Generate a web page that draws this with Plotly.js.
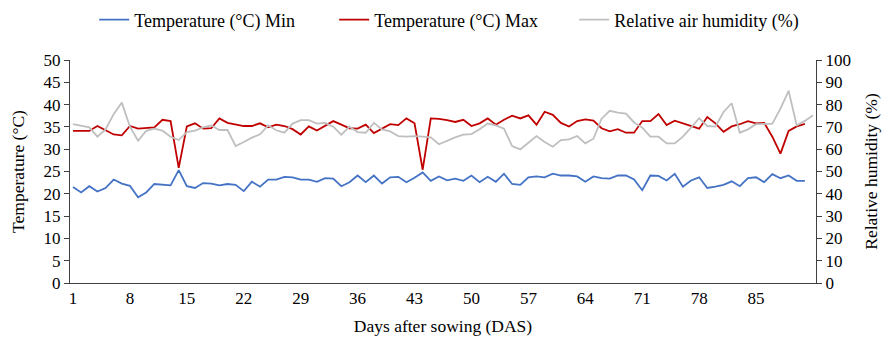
<!DOCTYPE html>
<html>
<head>
<meta charset="utf-8">
<script src="https://cdn.plot.ly/plotly-3.0.1.min.js"></script>
<style>html,body{margin:0;padding:0;background:#fff;}#chart{width:886px;height:338px;}</style>
</head>
<body>
<div id="chart"></div>
<script>
const tempMin = [21.5,20.3,21.7,20.5,21.3,23.2,22.3,21.8,19.2,20.3,22.2,22.0,21.9,25.3,21.7,21.3,22.4,22.3,21.9,22.2,22.0,20.6,22.7,21.6,23.2,23.2,23.8,23.7,23.2,23.2,22.7,23.5,23.4,21.7,22.6,24.1,22.6,24.1,22.3,23.7,23.8,22.6,23.6,24.8,22.9,23.9,23.0,23.4,22.9,24.1,22.6,23.8,22.7,24.5,22.2,22.0,23.7,23.9,23.7,24.5,24.1,24.1,23.9,22.7,23.9,23.5,23.4,24.1,24.1,23.2,20.8,24.1,24.0,23.0,24.5,21.6,23.0,23.7,21.3,21.6,22.0,22.8,21.7,23.5,23.7,22.6,24.4,23.5,24.1,22.9,22.9];
const tempMax = [34.1,34.1,34.1,35.2,34.3,33.3,33.1,35.2,34.6,34.7,34.9,36.6,36.3,25.8,35.1,35.8,34.6,34.7,36.9,35.9,35.6,35.2,35.2,35.8,34.9,35.5,35.2,34.5,33.3,35.1,34.2,35.2,36.3,35.5,34.7,34.6,35.5,33.6,34.6,35.6,35.4,36.9,35.8,25.4,36.9,36.8,36.5,36.1,36.6,35.2,35.8,36.9,35.5,36.6,37.5,36.9,37.6,35.5,38.4,37.7,35.9,35.1,36.3,36.7,36.4,34.7,34.0,34.5,33.7,33.7,36.3,36.3,37.9,35.4,36.4,35.8,35.3,34.6,37.2,35.8,33.9,35.1,35.6,36.3,35.8,35.9,32.8,29.0,34.1,35.1,35.7];
const humidity = [71.2,70.4,69.8,65.6,68.9,75.7,80.9,70.1,63.8,68.2,69.2,68.3,65.6,64.1,67.7,68.3,69.8,70.7,68.6,68.6,61.4,63.2,65.2,66.7,70.7,68.5,67.4,71.5,73.0,73.0,71.5,71.8,70.1,66.5,70.1,67.7,67.4,71.8,68.9,68.0,65.9,65.6,65.9,65.6,65.3,62.2,63.8,65.3,66.5,66.8,68.9,71.5,70.7,69.2,61.4,59.9,62.9,65.9,63.2,61.1,64.1,64.4,65.9,62.6,64.7,73.7,77.2,76.4,76.0,72.0,69.7,65.6,65.6,62.6,62.6,65.6,69.7,73.9,70.4,70.1,76.7,80.6,67.4,68.9,71.2,71.5,71.5,78.2,86.2,70.7,72.7,75.2];
const days = humidity.map((_, i) => i + 1);
const tickDays = [1,8,15,22,29,36,43,50,57,64,71,78,85];
const seriesNames = ["Temperature (°C) Min","Temperature (°C) Max","Relative air humidity (%)"];

const fam = "Liberation Serif, Times New Roman, serif";
const font = {family: fam, size: 17, color: "#000"};
const titleFont = {family: fam, size: 17.5, color: "#000"};
const traces = [
  {x: days.slice(0, tempMin.length), y: tempMin, name: seriesNames[0], type: "scatter", mode: "lines", line: {color: "#4472C4", width: 1.8}},
  {x: days.slice(0, tempMax.length), y: tempMax, name: seriesNames[1], type: "scatter", mode: "lines", line: {color: "#C00000", width: 1.8}},
  {x: days, y: humidity, name: seriesNames[2], type: "scatter", mode: "lines", yaxis: "y2", line: {color: "#BFBFBF", width: 1.8}}
];
const layout = {
  width: 886, height: 338,
  margin: {l: 70, r: 70, t: 60, b: 55, autoexpand: false},
  paper_bgcolor: "#fff", plot_bgcolor: "#fff",
  font: font,
  showlegend: true,
  legend: {orientation: "h", x: 0.515, xanchor: "center", y: 1.18, yanchor: "middle",
           font: {family: fam, size: 18, color: "#000"}, itemwidth: 30, traceorder: "normal",
           entrywidth: 195, entrywidthmode: "pixels"},
  xaxis: {
    range: [0.63, 92.37], tickmode: "array", tickvals: tickDays, ticktext: tickDays.map(String),
    showgrid: false, zeroline: false, showline: true, linecolor: "#404040", linewidth: 1,
    ticks: "", tickfont: font,
    title: {text: "Days after sowing (DAS)", font: titleFont, standoff: 12}
  },
  yaxis: {
    range: [0, 50], dtick: 5, showgrid: false, zeroline: false, showline: true, linecolor: "#404040", linewidth: 1,
    ticks: "outside", ticklen: 5, tickcolor: "#404040", tickfont: font,
    title: {text: "Temperature (°C)", font: titleFont, standoff: 14}
  },
  yaxis2: {
    range: [0, 100], dtick: 10, overlaying: "y", side: "right", showgrid: false, zeroline: false,
    showline: true, linecolor: "#404040", linewidth: 1,
    ticks: "outside", ticklen: 5, tickcolor: "#404040", tickfont: font,
    title: {text: "Relative humidity (%)", font: titleFont, standoff: 14}
  }
};
Plotly.newPlot("chart", traces, layout, {displayModeBar: false, staticPlot: true});
</script>
</body>
</html>
